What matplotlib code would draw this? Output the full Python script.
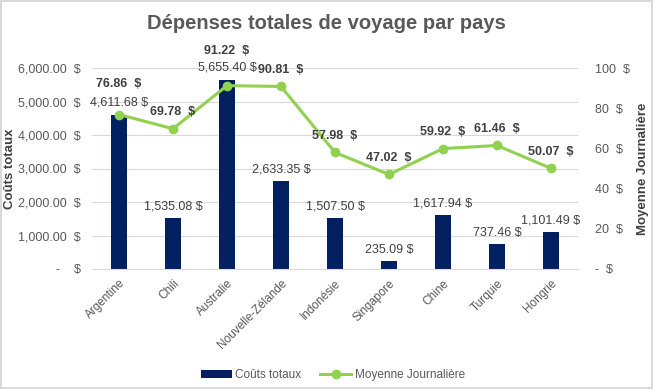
import matplotlib.pyplot as plt
from matplotlib.ticker import FuncFormatter
import numpy as np

pays = ['Argentine', 'Chili', 'Australie', 'Nouvelle-Zélande', 'Indonésie',
        'Singapore', 'Chine', 'Turquie', 'Hongrie']
couts_totaux = [4611.68, 1535.08, 5655.40, 2633.35, 1507.50, 235.09, 1617.94, 737.46, 1101.49]
moyenne_journaliere = [76.86, 69.78, 91.22, 90.81, 57.98, 47.02, 59.92, 61.46, 50.07]

BAR_COLOR = '#002060'
LINE_COLOR = '#92D050'
TEXT = '#595959'
LABEL = '#404040'

# offsets (points) for the line labels, Excel moves some to avoid overlap
line_offsets = [22, 12, 25, 12, 12, 12, 12, 12, 12]

plt.rcParams['font.family'] = ['Liberation Sans', 'DejaVu Sans']

fig = plt.figure(figsize=(6.53, 3.89), dpi=100)
fig.patch.set_edgecolor('#D9D9D9')
fig.patch.set_linewidth(1.5)
ax = fig.add_axes([92 / 653, 1 - 269 / 389, (578 - 92) / 653, (269 - 68) / 389])
ax2 = ax.twinx()

x = np.arange(len(pays))
bars = ax.bar(x, couts_totaux, width=0.3, color=BAR_COLOR, zorder=2)
ax2.plot(x, moyenne_journaliere, color=LINE_COLOR, lw=2.2, marker='o', ms=6, zorder=3)

ax.set_ylim(0, 6000)
ax.set_yticks(range(0, 6001, 1000))
ax2.set_ylim(0, 100)
ax2.set_yticks(range(0, 101, 20))
ax.set_xlim(-0.5, len(pays) - 0.5)

ax.yaxis.set_major_formatter(FuncFormatter(lambda v, p: '-    $' if v == 0 else f'{v:,.2f}  $'))
ax2.yaxis.set_major_formatter(FuncFormatter(lambda v, p: '-  $' if v == 0 else f'{v:.0f}  $'))

ax.grid(axis='y', color='#D9D9D9', lw=0.8, zorder=0)
ax.set_axisbelow(True)
for a in (ax, ax2):
    for s in a.spines.values():
        s.set_visible(False)
    a.tick_params(length=0, labelsize=9, colors=TEXT)
ax.tick_params(axis='y', pad=8)
ax.tick_params(axis='x', pad=6)
ax2.tick_params(axis='y', pad=12)
ax.spines['bottom'].set_visible(True)
ax.spines['bottom'].set_color('#D9D9D9')

ax.set_xticks(x)
ax.set_xticklabels(pays, rotation=45, ha='right', rotation_mode='anchor', fontsize=8.5)

ax.set_ylabel('Coûts totaux', fontsize=9.5, fontweight='bold', color=LABEL)
ax2.set_ylabel('Moyenne Journalière', fontsize=9.5, fontweight='bold', color=LABEL)
ax.yaxis.set_label_coords(-0.156, 0.5)
ax2.yaxis.set_label_coords(1.121, 0.5)

for xi, v in zip(x, couts_totaux):
    ax.annotate(f'{v:,.2f} $', (xi, v), xytext=(0, 4), textcoords='offset points',
                ha='center', va='bottom', fontsize=9, color=LABEL)
for xi, v, off in zip(x, moyenne_journaliere, line_offsets):
    ax2.annotate(f'{v:.2f}  $', (xi, v), xytext=(0, off), textcoords='offset points',
                 ha='center', va='center', fontsize=9, fontweight='bold', color=LABEL)

fig.suptitle('Dépenses totales de voyage par pays', x=0.5, y=0.965, fontsize=14.5,
             fontweight='bold', color=TEXT)

fig.legend([bars, ax2.lines[0]], ['Coûts totaux', 'Moyenne Journalière'],
           loc='center', bbox_to_anchor=(0.51, 0.035), ncol=2, frameon=False,
           fontsize=8.5, labelcolor=TEXT, handlelength=2.6, handletextpad=0.3,
           columnspacing=1.6)

fig.savefig('out.png', dpi=100)
